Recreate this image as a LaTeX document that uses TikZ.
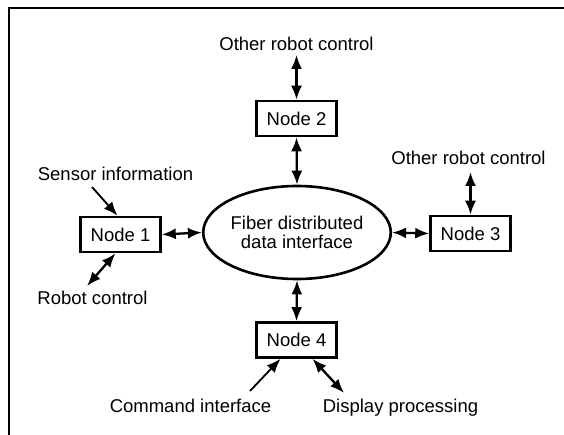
\documentclass[tikz,border=0pt]{standalone}
\usepackage{fontspec}
\setmainfont{Liberation Sans}
\usetikzlibrary{shapes.geometric,arrows.meta}
\begin{document}
\begin{tikzpicture}[x=1bp,y=-1bp,
  every node/.style={font=\fontsize{18.5bp}{21bp}\selectfont},
  box/.style={draw,line width=2.6bp,minimum width=80bp,minimum height=35bp,inner sep=0pt},
  hub/.style={draw,ellipse,line width=2.6bp,minimum width=180bp,minimum height=93bp,inner sep=0pt,align=center},
  lab/.style={anchor=base,inner sep=0pt},
  conn/.style={line width=2.3bp,{Latex[length=14bp,width=11bp]}-{Latex[length=14bp,width=11bp]}},
  inarrow/.style={line width=1.8bp,-{Latex[length=14bp,width=11bp]}}]
\useasboundingbox (0,0) rectangle (564,435);
\fill[white] (0,0) rectangle (564,435);
\draw[line width=2.4bp] (9,435) -- (9,8) -- (564,8);

\node[hub] (fddi) at (297,232.5) {Fiber distributed\\[-2bp]data interface};
\node[box] (n1) at (120.5,234.5) {Node 1};
\node[box] (n2) at (296.5,118.5) {Node 2};
\node[box] (n3) at (470.5,233.5) {Node 3};
\node[box] (n4) at (296.5,340) {Node 4};

\node[lab] (l2) at (296.5,51) {Other robot control};
\node[lab] (l3) at (468.5,165) {Other robot control};
\node[lab] (ls) at (115.5,181) {Sensor information};
\node[lab] (lr) at (92.5,304) {Robot control};
\node[lab] (lc) at (190.5,412) {Command interface};
\node[lab] (ld) at (400.5,412) {Display processing};

\coordinate (e2) at (296.5,55);
\coordinate (e3) at (470.5,172);
\coordinate (es) at (92,187);
\coordinate (er) at (87,286);
\coordinate (ec) at (250,391);
\coordinate (ed) at (344,393);

\draw[conn] (n2.south) -- (fddi.north);
\draw[conn] (fddi.south) -- (n4.north);
\draw[conn] (n1.east) -- (fddi.west);
\draw[conn] (fddi.east) -- (n3.west);
\draw[conn] (n2.north) -- (e2);
\draw[conn] (n3.north) -- (e3);
\draw[conn] ([xshift=-5bp]n1.south) -- (er);
\draw[conn] ([xshift=16bp]n4.south) -- (ed);
\draw[inarrow] (es) -- ([xshift=-3bp]n1.north);
\draw[inarrow] (ec) -- ([xshift=-16bp]n4.south);
\end{tikzpicture}
\end{document}
